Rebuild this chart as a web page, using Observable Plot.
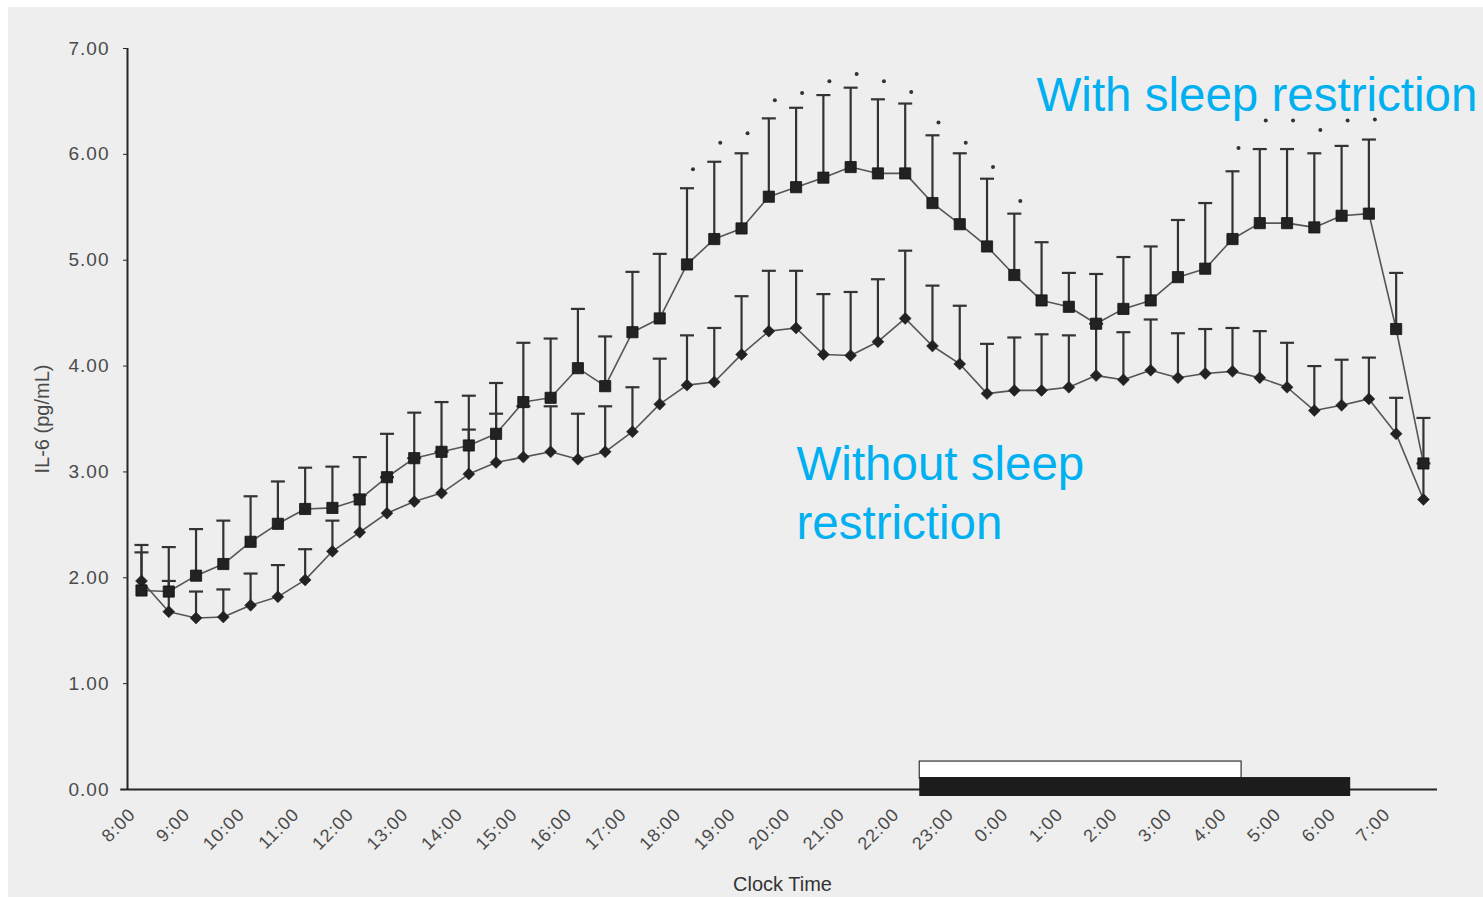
<!DOCTYPE html>
<html><head><meta charset="utf-8">
<script src="https://cdn.jsdelivr.net/npm/d3@7"></script>
<script src="https://cdn.jsdelivr.net/npm/@observablehq/plot@0.6"></script>
<style>
body{margin:0;background:#fff;}
#wrap{position:relative;width:1483px;height:897px;overflow:hidden;}
#bg{position:absolute;left:8px;top:7px;right:0;bottom:0;background:#eeeeee;}
#chart{position:absolute;left:0;top:0;}
</style></head><body>
<div id="wrap"><div id="bg"></div><div id="chart"></div></div>
<script>
// Sampling times (every 30 min, 8:00 to 7:30 next morning)
const timePoints = ["8:00","8:30","9:00","9:30","10:00","10:30","11:00","11:30","12:00","12:30",
  "13:00","13:30","14:00","14:30","15:00","15:30","16:00","16:30","17:00","17:30",
  "18:00","18:30","19:00","19:30","20:00","20:30","21:00","21:30","22:00","22:30",
  "23:00","23:30","0:00","0:30","1:00","1:30","2:00","2:30","3:00","3:30",
  "4:00","4:30","5:00","5:30","6:00","6:30","7:00","7:30"];

// IL-6 (pg/mL), with sleep restriction (squares): mean and mean + SE
const withRestriction = [1.88,1.87,2.02,2.13,2.34,2.51,2.65,2.66,2.74,2.95,
  3.13,3.19,3.25,3.36,3.66,3.70,3.98,3.81,4.32,4.45,
  4.96,5.20,5.30,5.60,5.69,5.78,5.88,5.82,5.82,5.54,
  5.34,5.13,4.86,4.62,4.56,4.40,4.54,4.62,4.84,4.92,
  5.20,5.35,5.35,5.31,5.42,5.44,4.35,3.08];
const withRestrictionUpper = [2.31,2.29,2.46,2.54,2.77,2.91,3.04,3.05,3.14,3.36,
  3.56,3.66,3.72,3.84,4.22,4.26,4.54,4.28,4.89,5.06,
  5.68,5.93,6.01,6.34,6.44,6.56,6.63,6.52,6.48,6.18,
  6.01,5.77,5.44,5.17,4.88,4.87,5.03,5.13,5.38,5.54,
  5.84,6.05,6.05,6.01,6.08,6.14,4.88,3.51];

// IL-6 (pg/mL), without sleep restriction (diamonds): mean and mean + SE
const withoutRestriction = [1.97,1.68,1.62,1.63,1.74,1.82,1.98,2.25,2.43,2.61,
  2.72,2.80,2.98,3.09,3.14,3.19,3.12,3.19,3.38,3.64,
  3.82,3.85,4.11,4.33,4.36,4.11,4.10,4.23,4.45,4.19,
  4.02,3.74,3.77,3.77,3.80,3.91,3.87,3.96,3.89,3.93,
  3.95,3.89,3.80,3.58,3.63,3.69,3.36,2.74];
const withoutRestrictionUpper = [2.24,1.97,1.87,1.89,2.04,2.12,2.27,2.54,2.78,2.95,
  3.13,3.19,3.40,3.55,3.62,3.62,3.55,3.62,3.80,4.07,
  4.29,4.36,4.66,4.90,4.90,4.68,4.70,4.82,5.09,4.76,
  4.57,4.21,4.27,4.30,4.29,4.40,4.32,4.44,4.31,4.35,
  4.36,4.33,4.22,4.00,4.06,4.08,3.70,3.08];

// Significance markers (*) above the sleep-restriction series
const starTimes = ["18:00","18:30","19:00","19:30","20:00","20:30","21:00","21:30","22:00","22:30",
  "23:00","23:30","0:00","4:00","4:30","5:00","5:30","6:00","6:30"];
const starLevels = [5.86,6.11,6.20,6.51,6.58,6.69,6.76,6.69,6.59,6.30,
  6.11,5.88,5.56,6.06,6.32,6.32,6.23,6.32,6.33];

// Sleep periods (bars on the time axis)
const sleepLabels = ["restricted sleep","normal sleep"];
const sleepStart = ["22:16","22:16"];
const sleepEnd = ["4:10","6:10"];

// Axis ticks
const xTickLabels = ["8:00","9:00","10:00","11:00","12:00","13:00","14:00","15:00","16:00","17:00",
  "18:00","19:00","20:00","21:00","22:00","23:00","0:00","1:00","2:00","3:00","4:00","5:00","6:00","7:00"];
const yTicks = [0,1,2,3,4,5,6,7];

// hours elapsed since 8:00
function toHours(t){ const [h,m] = t.split(":").map(Number); return ((h - 8 + 24) % 24) + m/60; }

const rowsWith = timePoints.map((t,i)=>({h:toHours(t), v:withRestriction[i], u:withRestrictionUpper[i]}));
const rowsWithout = timePoints.map((t,i)=>({h:toHours(t), v:withoutRestriction[i], u:withoutRestrictionUpper[i]}));
const stars = starTimes.map((t,i)=>({h:toHours(t), v:starLevels[i]}));
const sleep = sleepLabels.map((l,i)=>({label:l, start:toHours(sleepStart[i]), end:toHours(sleepEnd[i])}));
const xTicks = xTickLabels.map(toHours);

const capSymbol = { draw(ctx, size){ const r = Math.sqrt(size/Math.PI); ctx.moveTo(-r,0); ctx.lineTo(r,0); } };

const xMin = -0.2566, xMax = 23.758;
const ink = "#262626";
const err = "#333333";

const chart = Plot.plot({
  width: 1483, height: 897,
  marginLeft: 127, marginRight: 46, marginTop: 48, marginBottom: 108,
  style: {background: "transparent", fontFamily: "'Liberation Sans', Arial, sans-serif", fontSize: "19px", color: "#4a4a4a"},
  x: {domain: [xMin, xMax]},
  y: {domain: [0, 7]},
  marks: [
    // sleep bars
    Plot.rect(sleep.filter(d=>d.label==="restricted sleep"), {x1:"start", x2:"end", y1:0.104, y2:0.264, fill:"#ffffff", stroke:"#333", strokeWidth:1.2}),
    // axes lines
    Plot.ruleY([0], {x1: -0.38, x2: xMax, stroke: ink, strokeWidth: 2}),
    Plot.rect(sleep.filter(d=>d.label==="normal sleep"), {x1:"start", x2:"end", y1:-0.066, y2:0.113, fill:"#1c1c1c"}),
    Plot.ruleX([xMin], {y1: 0, y2: 7, stroke: ink, strokeWidth: 2}),
    Plot.axisY({ticks: yTicks, tickFormat: d3.format(".2f"), tickSize: 4, tickPadding: 14, label: null, stroke: ink, fontSize: 19}),
    Plot.axisX({ticks: xTicks, tickFormat: (d,i)=>xTickLabels[i], tickRotate: -45, tickSize: 0, tickPadding: 22, dx: -9, label: null, fontSize: 18}),
    Plot.text(["IL-6 (pg/mL)"], {frameAnchor: "left", textAnchor: "middle", dx: -85, rotate: -90, fontSize: 20, fill: "#4a4a4a"}),
    Plot.text(["Clock Time"], {frameAnchor: "bottom", dy: 101, fontSize: 20, fill: "#333"}),
    // error bars
    Plot.ruleX(rowsWithout, {x:"h", y1:"v", y2:"u", stroke:err, strokeWidth:2.2}),
    Plot.dot(rowsWithout, {x:"h", y:"u", symbol: capSymbol, r: 7, stroke:err, strokeWidth:2.2, fill:"none"}),
    Plot.ruleX(rowsWith, {x:"h", y1:"v", y2:"u", stroke:err, strokeWidth:2.2}),
    Plot.dot(rowsWith, {x:"h", y:"u", symbol: capSymbol, r: 7, stroke:err, strokeWidth:2.2, fill:"none"}),
    // lines
    Plot.line(rowsWithout, {x:"h", y:"v", stroke:"#555", strokeWidth:1.6}),
    Plot.line(rowsWith, {x:"h", y:"v", stroke:"#555", strokeWidth:1.6}),
    // markers
    Plot.dot(rowsWithout, {x:"h", y:"v", symbol:"diamond2", r:5.4, fill:"#222", stroke:"#222", strokeWidth:0.5}),
    Plot.dot(rowsWith, {x:"h", y:"v", symbol:"square", r:6.3, fill:"#222", stroke:"#111", strokeWidth:0.8}),
    // significance markers
    Plot.dot(stars, {x:"h", y:"v", r:2, fill:"#333", dx:6}),
    // series annotations
    Plot.text(["With sleep restriction"], {frameAnchor:"top-left", textAnchor:"start", dx:909, dy:29, fontSize:47.5, fill:"#00b0f0"}),
    Plot.text(["Without sleep\nrestriction"], {frameAnchor:"top-left", textAnchor:"start", dx:669, dy:390, fontSize:47.5, lineHeight:1.234, fill:"#00b0f0"})
  ]
});
d3.select(chart).selectAll('g[aria-label="y-axis tick label"] text').attr("letter-spacing", 1);
d3.select(chart).selectAll('g[aria-label="x-axis tick label"] text').attr("letter-spacing", 1);
document.getElementById("chart").appendChild(chart);
</script>
</body></html>
